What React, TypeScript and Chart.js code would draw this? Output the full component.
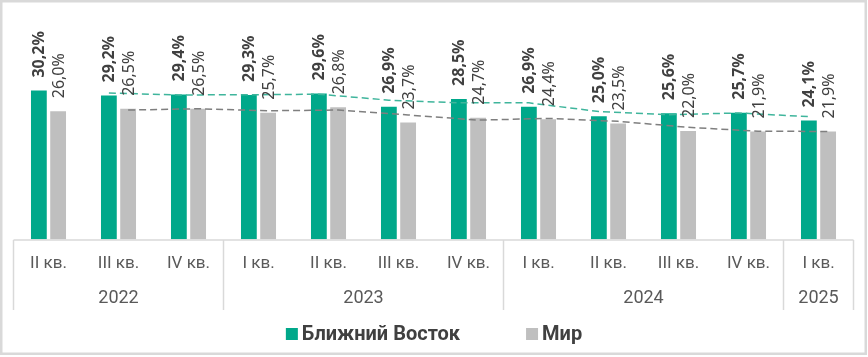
import React, { useEffect, useRef } from "react";
import { Chart, registerables } from "chart.js";

Chart.register(...registerables);

const categories = ["II кв.", "III кв.", "IV кв.", "I кв.", "II кв.", "III кв.", "IV кв.", "I кв.", "II кв.", "III кв.", "IV кв.", "I кв."];
const yearLabels = ["2022", "2023", "2024", "2025"];
const yearSpans = [3, 4, 4, 1];
const middleEast = [30.2, 29.2, 29.4, 29.3, 29.6, 26.9, 28.5, 26.9, 25.0, 25.6, 25.7, 24.1];
const world = [26.0, 26.5, 26.5, 25.7, 26.8, 23.7, 24.7, 24.4, 23.5, 22.0, 21.9, 21.9];
// trend lines (2-period moving average)
const middleEastTrend = [null, 29.7, 29.3, 29.35, 29.45, 28.25, 27.7, 27.7, 25.95, 25.3, 25.65, 24.9];
const worldTrend = [null, 26.25, 26.5, 26.1, 26.25, 25.25, 24.2, 24.55, 23.95, 22.75, 21.95, 21.9];

const GREEN = "#00a88a";
const GRAY = "#bfbfbf";
const LINE_COLOR = "#d9d9d9";
const TEXT_DARK = "#404040";
const TEXT_AXIS = "#595959";

const CAT_PCT = 0.55;
const BAR_PCT = 0.82;

const fmt = (v: number) => v.toFixed(1).replace(".", ",") + "%";

const framePlugin = {
  id: "frame",
  beforeDraw(chart: any) {
    const { ctx, width, height } = chart;
    ctx.save();
    ctx.fillStyle = "#ffffff";
    ctx.fillRect(0, 0, width, height);
    ctx.strokeStyle = LINE_COLOR;
    ctx.lineWidth = 2.5;
    ctx.strokeRect(1.25, 1.25, width - 3.5, height - 4.5);
    ctx.restore();
  },
};

const groupAxisPlugin = {
  id: "groupAxis",
  afterDraw(chart: any) {
    const { ctx, chartArea } = chart;
    const xs = chart.scales.x;
    const step = xs.getPixelForValue(1) - xs.getPixelForValue(0);
    const y0 = chartArea.bottom + 0.5;
    const y1 = 310;
    ctx.save();
    ctx.strokeStyle = LINE_COLOR;
    ctx.lineWidth = 1.5;
    ctx.beginPath();
    ctx.moveTo(chartArea.left, y0);
    ctx.lineTo(chartArea.right, y0);
    let idx = 0;
    const bounds: number[] = [0];
    yearSpans.forEach((s) => {
      idx += s;
      bounds.push(idx);
    });
    bounds.forEach((b) => {
      const x = xs.getPixelForValue(0) - step / 2 + b * step;
      ctx.moveTo(x, y0);
      ctx.lineTo(x, y1);
    });
    ctx.stroke();
    ctx.fillStyle = TEXT_AXIS;
    ctx.font = "18px Roboto";
    ctx.textAlign = "center";
    ctx.textBaseline = "middle";
    let start = 0;
    yearLabels.forEach((lab, i) => {
      const a = xs.getPixelForValue(start);
      const b = xs.getPixelForValue(start + yearSpans[i] - 1);
      ctx.fillText(lab, (a + b) / 2, 298);
      start += yearSpans[i];
    });
    // legend
    const items = chart.data.datasets.filter((d: any) => d.type === "bar");
    ctx.font = "bold 20px Roboto";
    const box = 12;
    const gap = 4;
    const spacing = 66;
    const widths = items.map((d: any) => box + gap + ctx.measureText(d.label).width);
    const total = widths.reduce((a: number, b: number) => a + b, 0) + spacing * (items.length - 1);
    let x = chart.width / 2 - total / 2;
    const ly = 334;
    ctx.textAlign = "left";
    items.forEach((d: any, i: number) => {
      ctx.fillStyle = d.backgroundColor;
      ctx.fillRect(x, ly - box / 2, box, box);
      ctx.fillStyle = TEXT_DARK;
      ctx.fillText(d.label, x + box + gap, ly + 1);
      x += widths[i] + spacing;
    });
    ctx.restore();
  },
};

const labelPlugin = {
  id: "barLabels",
  afterDatasetsDraw(chart: any) {
    const { ctx } = chart;
    ctx.save();
    chart.data.datasets.forEach((ds: any, di: number) => {
      if (ds.type !== "bar") return;
      const meta = chart.getDatasetMeta(di);
      meta.data.forEach((el: any, i: number) => {
        const v = ds.data[i];
        ctx.save();
        ctx.translate(el.x + 1, el.y - 13);
        ctx.rotate(-Math.PI / 2);
        ctx.font = di === 0 ? "bold 16px 'Noto Sans'" : "16px 'Noto Sans'";
        ctx.fillStyle = TEXT_DARK;
        ctx.textAlign = "left";
        ctx.textBaseline = "middle";
        ctx.fillText(fmt(v), 0, 0);
        ctx.restore();
      });
    });
    ctx.restore();
  },
};

export default function App() {
  const ref = useRef<HTMLCanvasElement | null>(null);
  useEffect(() => {
    if (!ref.current) return;
    const off = CAT_PCT / 4;
    const chart = new Chart(ref.current, {
      type: "bar",
      data: {
        labels: categories,
        datasets: [
          {
            type: "bar",
            label: "Ближний Восток",
            data: middleEast,
            backgroundColor: GREEN,
            categoryPercentage: CAT_PCT,
            barPercentage: BAR_PCT,
            order: 2,
          } as any,
          {
            type: "bar",
            label: "Мир",
            data: world,
            backgroundColor: GRAY,
            categoryPercentage: CAT_PCT,
            barPercentage: BAR_PCT,
            order: 2,
          } as any,
          {
            type: "line",
            label: "trend1",
            parsing: false,
            data: middleEastTrend.map((v, i) => ({ x: i - off, y: v })),
            borderColor: "#3fb59c",
            borderWidth: 1.5,
            borderDash: [7, 4],
            pointRadius: 0,
            fill: false,
            order: 1,
          } as any,
          {
            type: "line",
            label: "trend2",
            parsing: false,
            data: worldTrend.map((v, i) => ({ x: i + off, y: v })),
            borderColor: "#7f7f7f",
            borderWidth: 1.5,
            borderDash: [7, 4],
            pointRadius: 0,
            fill: false,
            order: 1,
          } as any,
        ],
      },
      options: {
        responsive: false,
        animation: false,
        devicePixelRatio: 1,
        layout: { padding: { top: 20, left: 13.5, right: 14.5, bottom: 67.5 } },
        plugins: { legend: { display: false }, tooltip: { enabled: false } },
        scales: {
          x: {
            type: "category",
            offset: true,
            grid: { display: false, drawTicks: false },
            border: { display: false },
            ticks: { color: TEXT_AXIS, font: { family: "Roboto", size: 17 }, padding: 14, maxRotation: 0, autoSkip: false },
            afterFit: (s: any) => {
              s.height = 50;
            },
          },
          y: { display: false, min: 0, max: 44.5 },
        },
      },
      plugins: [framePlugin, groupAxisPlugin, labelPlugin],
    });
    return () => chart.destroy();
  }, []);
  return (
    <div style={{ position: "absolute", left: 0, top: 0, width: 868, height: 357 }}>
      <canvas ref={ref} width={868} height={357} />
    </div>
  );
}
